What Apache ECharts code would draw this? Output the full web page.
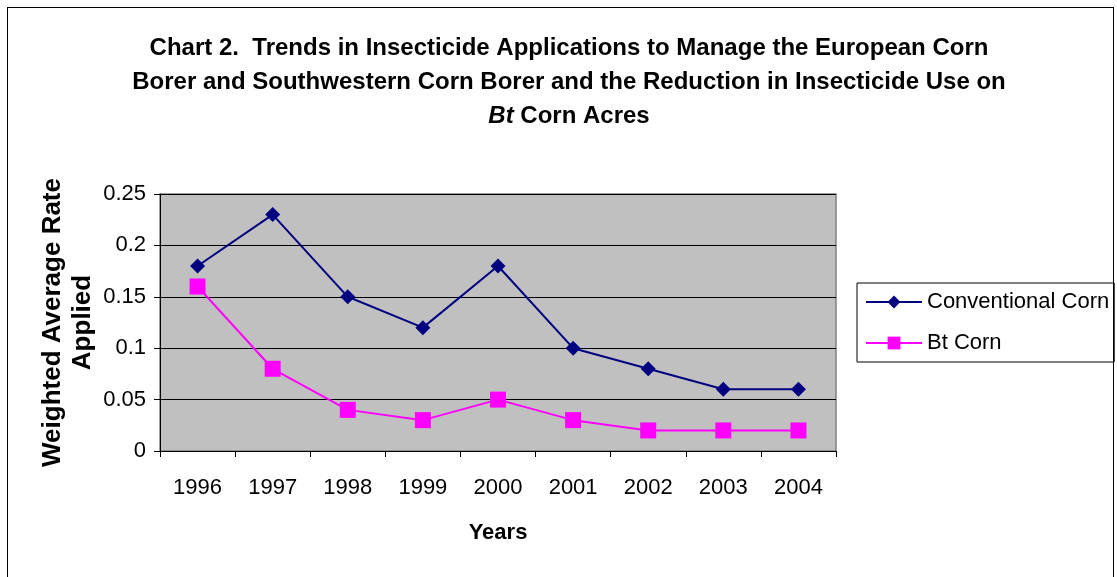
<!DOCTYPE html>
<html>
<head>
<meta charset="utf-8">
<script src="https://cdn.jsdelivr.net/npm/echarts@6/dist/echarts.min.js"></script>
<style>
	html, body { margin: 0; padding: 0; background: #fff; }
	#frame { position: absolute; left: 7px; top: 7px; width: 1107px; height: 580px; border: 1px solid #000; box-sizing: border-box; }
	#chart-box { position: absolute; left: 0; top: 0; width: 1117px; height: 577px; }
</style>
</head>
<body>
<div id="frame"></div>
<div id="chart-box"></div>
<script>
let years = ["1996", "1997", "1998", "1999", "2000", "2001", "2002", "2003", "2004"]
let conventionalCorn = [0.18, 0.23, 0.15, 0.12, 0.18, 0.10, 0.08, 0.06, 0.06]
let btCorn = [0.16, 0.08, 0.04, 0.03, 0.05, 0.03, 0.02, 0.02, 0.02]

let titleFont = "'Liberation Sans Narrow', 'Arial Narrow', 'Liberation Sans', sans-serif"
let plainFont = "'Liberation Sans', Arial, sans-serif"

let chart = echarts.init(document.getElementById("chart-box"))

let option = {
	animation: false,
	title: {
		text: "Chart 2.  Trends in Insecticide Applications to Manage the European Corn\nBorer and Southwestern Corn Borer and the Reduction in Insecticide Use on\n{i|Bt} Corn Acres",
		left: 564,
		textAlign: "center",
		top: 26,
		textStyle: {
			fontFamily: titleFont,
			fontSize: 24,
			fontWeight: "bold",
			color: "#000",
			lineHeight: 34,
			rich: {
				i: {
					fontFamily: titleFont,
					fontSize: 24,
					fontWeight: "bold",
					fontStyle: "italic",
					lineHeight: 34
				}
			}
		}
	},
	legend: {
		orient: "vertical",
		left: 857,
		top: 283,
		borderColor: "#000",
		borderWidth: 1,
		padding: [8, 5, 8, 8],
		itemGap: 19,
		itemWidth: 56,
		itemHeight: 16,
		textStyle: {
			fontFamily: plainFont,
			fontSize: 22,
			color: "#000"
		},
		data: ["Conventional Corn", "Bt Corn"]
	},
	grid: {
		left: 160,
		top: 194,
		right: 281,
		bottom: 126,
		show: true,
		backgroundColor: "#C0C0C0",
		borderColor: "#808080",
		borderWidth: 1.5
	},
	xAxis: {
		type: "category",
		data: years,
		boundaryGap: true,
		name: "Years",
		nameLocation: "middle",
		nameGap: 71,
		nameTextStyle: {
			fontFamily: plainFont,
			fontSize: 22,
			fontWeight: "bold",
			color: "#000"
		},
		axisLine: { lineStyle: { color: "#000", width: 1 } },
		axisTick: { show: true, length: 6, inside: false, lineStyle: { color: "#000" } },
		axisLabel: {
			margin: 26,
			fontFamily: plainFont,
			fontSize: 22,
			color: "#000"
		},
		splitLine: { show: false }
	},
	yAxis: {
		type: "value",
		min: 0,
		max: 0.25,
		interval: 0.05,
		name: "Weighted Average Rate\nApplied",
		nameLocation: "middle",
		nameRotate: 90,
		nameGap: 62,
		nameMoveOverlap: false,
		nameTextStyle: {
			fontFamily: plainFont,
			fontSize: 26,
			fontWeight: "bold",
			color: "#000",
			lineHeight: 30
		},
		axisLine: { show: true, lineStyle: { color: "#000", width: 1 } },
		axisTick: { show: true, length: 6, inside: false, lineStyle: { color: "#000" } },
		axisLabel: {
			margin: 14,
			fontFamily: plainFont,
			fontSize: 22,
			color: "#000"
		},
		splitLine: { show: true, lineStyle: { color: "#000", width: 1 } }
	},
	series: [
		{
			name: "Conventional Corn",
			type: "line",
			data: conventionalCorn,
			symbol: "diamond",
			symbolSize: 15,
			itemStyle: { color: "#000080" },
			lineStyle: { color: "#000080", width: 2 }
		},
		{
			name: "Bt Corn",
			type: "line",
			data: btCorn,
			symbol: "rect",
			symbolSize: 16,
			itemStyle: { color: "#FF00FF" },
			lineStyle: { color: "#FF00FF", width: 2 }
		}
	]
}
chart.setOption(option)
</script>
</body>
</html>
